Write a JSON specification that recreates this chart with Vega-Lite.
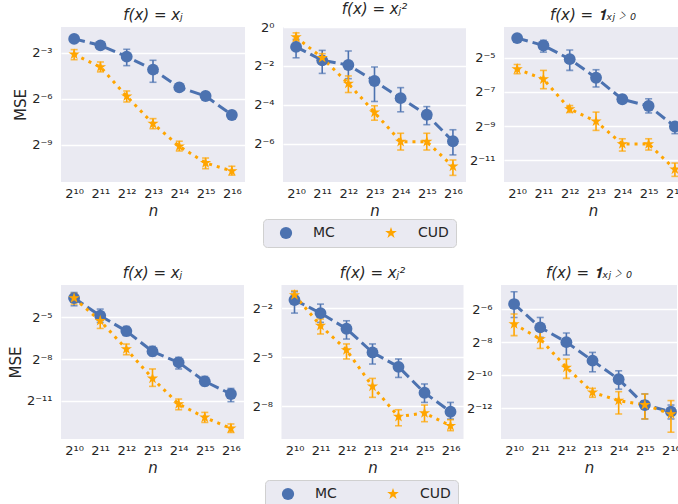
{
  "$schema": "https://vega.github.io/schema/vega-lite/v6.json",
  "padding": {"left": 8, "top": 2, "right": 0, "bottom": 0},
  "datasets": {
    "mse": [
      {"panel": "r1c1", "series": "MC", "n": 1024, "log2_mse": -2.08, "log2_lo": -2.22, "log2_hi": -1.95},
      {"panel": "r1c1", "series": "MC", "n": 2048, "log2_mse": -2.5, "log2_lo": -2.72, "log2_hi": -2.3},
      {"panel": "r1c1", "series": "MC", "n": 4096, "log2_mse": -3.24, "log2_lo": -3.83, "log2_hi": -2.76},
      {"panel": "r1c1", "series": "MC", "n": 8192, "log2_mse": -4.09, "log2_lo": -4.92, "log2_hi": -3.48},
      {"panel": "r1c1", "series": "MC", "n": 16384, "log2_mse": -5.25, "log2_lo": -5.49, "log2_hi": -5.01},
      {"panel": "r1c1", "series": "MC", "n": 32768, "log2_mse": -5.82, "log2_lo": -6.06, "log2_hi": -5.62},
      {"panel": "r1c1", "series": "MC", "n": 65536, "log2_mse": -7.06, "log2_lo": -7.34, "log2_hi": -6.82},
      {"panel": "r1c1", "series": "CUD", "n": 1024, "log2_mse": -3.09, "log2_lo": -3.44, "log2_hi": -2.78},
      {"panel": "r1c1", "series": "CUD", "n": 2048, "log2_mse": -3.92, "log2_lo": -4.24, "log2_hi": -3.59},
      {"panel": "r1c1", "series": "CUD", "n": 4096, "log2_mse": -5.84, "log2_lo": -6.21, "log2_hi": -5.49},
      {"panel": "r1c1", "series": "CUD", "n": 8192, "log2_mse": -7.63, "log2_lo": -7.96, "log2_hi": -7.3},
      {"panel": "r1c1", "series": "CUD", "n": 16384, "log2_mse": -9.11, "log2_lo": -9.42, "log2_hi": -8.78},
      {"panel": "r1c1", "series": "CUD", "n": 32768, "log2_mse": -10.2, "log2_lo": -10.58, "log2_hi": -9.88},
      {"panel": "r1c1", "series": "CUD", "n": 65536, "log2_mse": -10.73, "log2_lo": -11.0, "log2_hi": -10.42},
      {"panel": "r1c2", "series": "MC", "n": 1024, "log2_mse": -1.02, "log2_lo": -1.58, "log2_hi": -0.64},
      {"panel": "r1c2", "series": "MC", "n": 2048, "log2_mse": -1.71, "log2_lo": -2.38, "log2_hi": -1.2},
      {"panel": "r1c2", "series": "MC", "n": 4096, "log2_mse": -1.95, "log2_lo": -2.65, "log2_hi": -1.23},
      {"panel": "r1c2", "series": "MC", "n": 8192, "log2_mse": -2.77, "log2_lo": -3.82, "log2_hi": -2.05},
      {"panel": "r1c2", "series": "MC", "n": 16384, "log2_mse": -3.65, "log2_lo": -4.35, "log2_hi": -3.11},
      {"panel": "r1c2", "series": "MC", "n": 32768, "log2_mse": -4.5, "log2_lo": -5.01, "log2_hi": -4.08},
      {"panel": "r1c2", "series": "MC", "n": 65536, "log2_mse": -5.86, "log2_lo": -6.56, "log2_hi": -5.27},
      {"panel": "r1c2", "series": "CUD", "n": 1024, "log2_mse": -0.52, "log2_lo": -0.72, "log2_hi": -0.3},
      {"panel": "r1c2", "series": "CUD", "n": 2048, "log2_mse": -1.58, "log2_lo": -1.78, "log2_hi": -1.37},
      {"panel": "r1c2", "series": "CUD", "n": 4096, "log2_mse": -2.9, "log2_lo": -3.36, "log2_hi": -2.51},
      {"panel": "r1c2", "series": "CUD", "n": 8192, "log2_mse": -4.38, "log2_lo": -4.78, "log2_hi": -4.04},
      {"panel": "r1c2", "series": "CUD", "n": 16384, "log2_mse": -5.88, "log2_lo": -6.31, "log2_hi": -5.45},
      {"panel": "r1c2", "series": "CUD", "n": 32768, "log2_mse": -5.88, "log2_lo": -6.31, "log2_hi": -5.45},
      {"panel": "r1c2", "series": "CUD", "n": 65536, "log2_mse": -7.15, "log2_lo": -7.61, "log2_hi": -6.82},
      {"panel": "r1c3", "series": "MC", "n": 1024, "log2_mse": -3.85, "log2_lo": -4.0, "log2_hi": -3.7},
      {"panel": "r1c3", "series": "MC", "n": 2048, "log2_mse": -4.28, "log2_lo": -4.67, "log2_hi": -3.98},
      {"panel": "r1c3", "series": "MC", "n": 4096, "log2_mse": -5.08, "log2_lo": -5.74, "log2_hi": -4.55},
      {"panel": "r1c3", "series": "MC", "n": 8192, "log2_mse": -6.17, "log2_lo": -6.71, "log2_hi": -5.7},
      {"panel": "r1c3", "series": "MC", "n": 16384, "log2_mse": -7.43, "log2_lo": -7.65, "log2_hi": -7.2},
      {"panel": "r1c3", "series": "MC", "n": 32768, "log2_mse": -7.82, "log2_lo": -8.23, "log2_hi": -7.4},
      {"panel": "r1c3", "series": "MC", "n": 65536, "log2_mse": -9.02, "log2_lo": -9.44, "log2_hi": -8.86},
      {"panel": "r1c3", "series": "CUD", "n": 1024, "log2_mse": -5.66, "log2_lo": -5.94, "log2_hi": -5.39},
      {"panel": "r1c3", "series": "CUD", "n": 2048, "log2_mse": -6.25, "log2_lo": -6.81, "log2_hi": -5.74},
      {"panel": "r1c3", "series": "CUD", "n": 4096, "log2_mse": -8.0, "log2_lo": -8.2, "log2_hi": -7.8},
      {"panel": "r1c3", "series": "CUD", "n": 8192, "log2_mse": -8.72, "log2_lo": -9.25, "log2_hi": -8.18},
      {"panel": "r1c3", "series": "CUD", "n": 16384, "log2_mse": -10.05, "log2_lo": -10.46, "log2_hi": -9.74},
      {"panel": "r1c3", "series": "CUD", "n": 32768, "log2_mse": -10.05, "log2_lo": -10.4, "log2_hi": -9.74},
      {"panel": "r1c3", "series": "CUD", "n": 65536, "log2_mse": -11.53, "log2_lo": -11.94, "log2_hi": -11.16},
      {"panel": "r2c1", "series": "MC", "n": 1024, "log2_mse": -3.61, "log2_lo": -4.16, "log2_hi": -3.21},
      {"panel": "r2c1", "series": "MC", "n": 2048, "log2_mse": -4.88, "log2_lo": -5.36, "log2_hi": -4.4},
      {"panel": "r2c1", "series": "MC", "n": 4096, "log2_mse": -5.98, "log2_lo": -6.31, "log2_hi": -5.65},
      {"panel": "r2c1", "series": "MC", "n": 8192, "log2_mse": -7.44, "log2_lo": -7.75, "log2_hi": -7.08},
      {"panel": "r2c1", "series": "MC", "n": 16384, "log2_mse": -8.23, "log2_lo": -8.7, "log2_hi": -7.87},
      {"panel": "r2c1", "series": "MC", "n": 32768, "log2_mse": -9.59, "log2_lo": -9.9, "log2_hi": -9.24},
      {"panel": "r2c1", "series": "MC", "n": 65536, "log2_mse": -10.5, "log2_lo": -11.05, "log2_hi": -10.1},
      {"panel": "r2c1", "series": "CUD", "n": 1024, "log2_mse": -3.61, "log2_lo": -4.04, "log2_hi": -3.28},
      {"panel": "r2c1", "series": "CUD", "n": 2048, "log2_mse": -5.24, "log2_lo": -5.79, "log2_hi": -4.83},
      {"panel": "r2c1", "series": "CUD", "n": 4096, "log2_mse": -7.27, "log2_lo": -7.68, "log2_hi": -6.91},
      {"panel": "r2c1", "series": "CUD", "n": 8192, "log2_mse": -9.38, "log2_lo": -9.95, "log2_hi": -8.7},
      {"panel": "r2c1", "series": "CUD", "n": 16384, "log2_mse": -11.22, "log2_lo": -11.63, "log2_hi": -10.86},
      {"panel": "r2c1", "series": "CUD", "n": 32768, "log2_mse": -12.18, "log2_lo": -12.54, "log2_hi": -11.82},
      {"panel": "r2c1", "series": "CUD", "n": 65536, "log2_mse": -12.97, "log2_lo": -13.26, "log2_hi": -12.65},
      {"panel": "r2c2", "series": "MC", "n": 1024, "log2_mse": -1.51, "log2_lo": -2.31, "log2_hi": -1.0},
      {"panel": "r2c2", "series": "MC", "n": 2048, "log2_mse": -2.31, "log2_lo": -2.88, "log2_hi": -1.76},
      {"panel": "r2c2", "series": "MC", "n": 4096, "log2_mse": -3.27, "log2_lo": -3.9, "log2_hi": -2.78},
      {"panel": "r2c2", "series": "MC", "n": 8192, "log2_mse": -4.72, "log2_lo": -5.43, "log2_hi": -4.2},
      {"panel": "r2c2", "series": "MC", "n": 16384, "log2_mse": -5.6, "log2_lo": -6.25, "log2_hi": -5.12},
      {"panel": "r2c2", "series": "MC", "n": 32768, "log2_mse": -7.19, "log2_lo": -7.78, "log2_hi": -6.65},
      {"panel": "r2c2", "series": "MC", "n": 65536, "log2_mse": -8.35, "log2_lo": -8.8, "log2_hi": -7.78},
      {"panel": "r2c2", "series": "CUD", "n": 1024, "log2_mse": -1.2, "log2_lo": -1.45, "log2_hi": -0.94},
      {"panel": "r2c2", "series": "CUD", "n": 2048, "log2_mse": -3.08, "log2_lo": -3.59, "log2_hi": -2.67},
      {"panel": "r2c2", "series": "CUD", "n": 4096, "log2_mse": -4.57, "log2_lo": -5.12, "log2_hi": -4.2},
      {"panel": "r2c2", "series": "CUD", "n": 8192, "log2_mse": -6.8, "log2_lo": -7.47, "log2_hi": -6.31},
      {"panel": "r2c2", "series": "CUD", "n": 16384, "log2_mse": -8.65, "log2_lo": -9.21, "log2_hi": -8.23},
      {"panel": "r2c2", "series": "CUD", "n": 32768, "log2_mse": -8.43, "log2_lo": -8.96, "log2_hi": -7.94},
      {"panel": "r2c2", "series": "CUD", "n": 65536, "log2_mse": -9.21, "log2_lo": -9.51, "log2_hi": -8.84},
      {"panel": "r2c3", "series": "MC", "n": 1024, "log2_mse": -5.7, "log2_lo": -6.51, "log2_hi": -4.96},
      {"panel": "r2c3", "series": "MC", "n": 2048, "log2_mse": -7.11, "log2_lo": -7.71, "log2_hi": -6.51},
      {"panel": "r2c3", "series": "MC", "n": 4096, "log2_mse": -8.0, "log2_lo": -8.78, "log2_hi": -7.45},
      {"panel": "r2c3", "series": "MC", "n": 8192, "log2_mse": -9.12, "log2_lo": -9.79, "log2_hi": -8.62},
      {"panel": "r2c3", "series": "MC", "n": 16384, "log2_mse": -10.24, "log2_lo": -10.84, "log2_hi": -9.73},
      {"panel": "r2c3", "series": "MC", "n": 32768, "log2_mse": -11.8, "log2_lo": -12.64, "log2_hi": -11.13},
      {"panel": "r2c3", "series": "MC", "n": 65536, "log2_mse": -12.2, "log2_lo": -12.64, "log2_hi": -11.8},
      {"panel": "r2c3", "series": "CUD", "n": 1024, "log2_mse": -6.91, "log2_lo": -7.61, "log2_hi": -6.3},
      {"panel": "r2c3", "series": "CUD", "n": 2048, "log2_mse": -7.81, "log2_lo": -8.38, "log2_hi": -7.31},
      {"panel": "r2c3", "series": "CUD", "n": 4096, "log2_mse": -9.53, "log2_lo": -10.19, "log2_hi": -9.02},
      {"panel": "r2c3", "series": "CUD", "n": 8192, "log2_mse": -11.03, "log2_lo": -11.33, "log2_hi": -10.79},
      {"panel": "r2c3", "series": "CUD", "n": 16384, "log2_mse": -11.53, "log2_lo": -12.34, "log2_hi": -10.99},
      {"panel": "r2c3", "series": "CUD", "n": 32768, "log2_mse": -11.79, "log2_lo": -12.64, "log2_hi": -11.13},
      {"panel": "r2c3", "series": "CUD", "n": 65536, "log2_mse": -12.34, "log2_lo": -13.44, "log2_hi": -11.53}
    ]
  },
  "data": {"name": "mse"},
  "spacing": 18,
  "bounds": "full",
  "resolve": {
    "scale": {"color": "independent", "shape": "independent"},
    "legend": {"color": "independent", "shape": "independent"}
  },
  "vconcat": [
    {
      "spacing": 38,
      "bounds": "flush",
      "resolve": {"scale": {"color": "shared", "shape": "shared"}, "legend": {"color": "shared", "shape": "shared"}},
      "hconcat": [
        {
          "width": 184, "height": 155,
          "title": "f(x) = xⱼ",
          "transform": [{"filter": "datum.panel == 'r1c1'"}],
          "encoding": {
            "x": {"field": "n", "type": "quantitative", "scale": {"type": "log", "base": 2, "domain": [724.08, 92681.9], "nice": false},
                  "axis": {"values": [1024, 2048, 4096, 8192, 16384, 32768, 65536], "labelExpr": "datum.value == 1024 ? '2¹⁰' : datum.value == 2048 ? '2¹¹' : datum.value == 4096 ? '2¹²' : datum.value == 8192 ? '2¹³' : datum.value == 16384 ? '2¹⁴' : datum.value == 32768 ? '2¹⁵' : '2¹⁶'", "title": "n"}},
            "y": {"field": "log2_mse", "type": "quantitative", "scale": {"domain": [-11.45, -1.3], "nice": false, "zero": false},
                  "axis": {"values": [-9, -6, -3], "title": "MSE", "minExtent": 27, "maxExtent": 27, "labelExpr": "datum.value == -3 ? '2⁻³' : datum.value == -6 ? '2⁻⁶' : '2⁻⁹'"}}
          },
          "layer": [
            {"transform": [{"filter": "datum.series == 'MC'"}], "mark": {"type": "errorbar", "color": "#4C72B0", "thickness": 1.6, "ticks": {"size": 7, "thickness": 1.6}},
             "encoding": {"y": {"field": "log2_lo", "type": "quantitative", "scale": {"domain": [-11.45, -1.3], "nice": false, "zero": false},
                                "axis": {"values": [-9, -6, -3], "title": "MSE", "minExtent": 27, "maxExtent": 27, "labelExpr": "datum.value == -3 ? '2⁻³' : datum.value == -6 ? '2⁻⁶' : '2⁻⁹'"}}, "y2": {"field": "log2_hi"}}},
            {"transform": [{"filter": "datum.series == 'CUD'"}], "mark": {"type": "errorbar", "color": "#FFA500", "thickness": 1.6, "ticks": {"size": 7, "thickness": 1.6}},
             "encoding": {"y": {"field": "log2_lo", "type": "quantitative", "scale": {"domain": [-11.45, -1.3], "nice": false, "zero": false},
                                "axis": {"values": [-9, -6, -3], "title": "MSE", "minExtent": 27, "maxExtent": 27, "labelExpr": "datum.value == -3 ? '2⁻³' : datum.value == -6 ? '2⁻⁶' : '2⁻⁹'"}}, "y2": {"field": "log2_hi"}}},
            {"transform": [{"filter": "datum.series == 'MC'"}], "mark": {"type": "line", "strokeWidth": 3, "strokeDash": [11, 5], "color": "#4C72B0"}, "encoding": {}},
            {"transform": [{"filter": "datum.series == 'CUD'"}], "mark": {"type": "line", "strokeWidth": 3, "strokeDash": [3, 5], "color": "#FFA500"}, "encoding": {}},
            {"mark": {"type": "point", "filled": true, "opacity": 1, "size": 140},
             "encoding": {"color": {"field": "series", "type": "nominal", "scale": {"domain": ["MC", "CUD"], "range": ["#4C72B0", "#FFA500"]}, "legend": {"orient": "none", "legendX": 202, "legendY": 192, "direction": "horizontal", "columns": 2, "title": null}},
                          "shape": {"field": "series", "type": "nominal", "scale": {"domain": ["MC", "CUD"], "range": ["circle", "M0,-1L0.2245,-0.309L0.951,-0.309L0.363,0.118L0.588,0.809L0,0.382L-0.588,0.809L-0.363,0.118L-0.951,-0.309L-0.2245,-0.309Z"]}, "legend": {"orient": "none", "legendX": 202, "legendY": 192, "direction": "horizontal", "columns": 2, "title": null}}}}
          ]
        },
        {
          "width": 183, "height": 155,
          "title": "f(x) = xⱼ²",
          "transform": [{"filter": "datum.panel == 'r1c2'"}],
          "encoding": {
            "x": {"field": "n", "type": "quantitative", "scale": {"type": "log", "base": 2, "domain": [724.08, 92681.9], "nice": false},
                  "axis": {"values": [1024, 2048, 4096, 8192, 16384, 32768, 65536], "labelExpr": "datum.value == 1024 ? '2¹⁰' : datum.value == 2048 ? '2¹¹' : datum.value == 4096 ? '2¹²' : datum.value == 8192 ? '2¹³' : datum.value == 16384 ? '2¹⁴' : datum.value == 32768 ? '2¹⁵' : '2¹⁶'", "title": "n"}},
            "y": {"field": "log2_mse", "type": "quantitative", "scale": {"domain": [-7.95, 0], "nice": false, "zero": false},
                  "axis": {"values": [-6, -4, -2, 0], "title": null, "labelExpr": "datum.value == 0 ? '2⁰' : datum.value == -2 ? '2⁻²' : datum.value == -4 ? '2⁻⁴' : '2⁻⁶'"}}
          },
          "layer": [
            {"transform": [{"filter": "datum.series == 'MC'"}], "mark": {"type": "errorbar", "color": "#4C72B0", "thickness": 1.6, "ticks": {"size": 7, "thickness": 1.6}},
             "encoding": {"y": {"field": "log2_lo", "type": "quantitative", "scale": {"domain": [-7.95, 0], "nice": false, "zero": false},
                                "axis": {"values": [-6, -4, -2, 0], "title": null, "labelExpr": "datum.value == 0 ? '2⁰' : datum.value == -2 ? '2⁻²' : datum.value == -4 ? '2⁻⁴' : '2⁻⁶'"}}, "y2": {"field": "log2_hi"}}},
            {"transform": [{"filter": "datum.series == 'CUD'"}], "mark": {"type": "errorbar", "color": "#FFA500", "thickness": 1.6, "ticks": {"size": 7, "thickness": 1.6}},
             "encoding": {"y": {"field": "log2_lo", "type": "quantitative", "scale": {"domain": [-7.95, 0], "nice": false, "zero": false},
                                "axis": {"values": [-6, -4, -2, 0], "title": null, "labelExpr": "datum.value == 0 ? '2⁰' : datum.value == -2 ? '2⁻²' : datum.value == -4 ? '2⁻⁴' : '2⁻⁶'"}}, "y2": {"field": "log2_hi"}}},
            {"transform": [{"filter": "datum.series == 'MC'"}], "mark": {"type": "line", "strokeWidth": 3, "strokeDash": [11, 5], "color": "#4C72B0"}, "encoding": {}},
            {"transform": [{"filter": "datum.series == 'CUD'"}], "mark": {"type": "line", "strokeWidth": 3, "strokeDash": [3, 5], "color": "#FFA500"}, "encoding": {}},
            {"mark": {"type": "point", "filled": true, "opacity": 1, "size": 140},
             "encoding": {"color": {"field": "series", "type": "nominal", "scale": {"domain": ["MC", "CUD"], "range": ["#4C72B0", "#FFA500"]}, "legend": {"orient": "none", "legendX": 202, "legendY": 192, "direction": "horizontal", "columns": 2, "title": null}},
                          "shape": {"field": "series", "type": "nominal", "scale": {"domain": ["MC", "CUD"], "range": ["circle", "M0,-1L0.2245,-0.309L0.951,-0.309L0.363,0.118L0.588,0.809L0,0.382L-0.588,0.809L-0.363,0.118L-0.951,-0.309L-0.2245,-0.309Z"]}, "legend": {"orient": "none", "legendX": 202, "legendY": 192, "direction": "horizontal", "columns": 2, "title": null}}}}
          ]
        },
        {
          "width": 178, "height": 155,
          "title": "f(x) = 𝟏ₓⱼ﹥₀",
          "transform": [{"filter": "datum.panel == 'r1c3'"}],
          "encoding": {
            "x": {"field": "n", "type": "quantitative", "scale": {"type": "log", "base": 2, "domain": [724.08, 79000], "nice": false},
                  "axis": {"values": [1024, 2048, 4096, 8192, 16384, 32768, 65536], "labelExpr": "datum.value == 1024 ? '2¹⁰' : datum.value == 2048 ? '2¹¹' : datum.value == 4096 ? '2¹²' : datum.value == 8192 ? '2¹³' : datum.value == 16384 ? '2¹⁴' : datum.value == 32768 ? '2¹⁵' : '2¹⁶'", "title": "n"}},
            "y": {"field": "log2_mse", "type": "quantitative", "scale": {"domain": [-12.27, -3.2], "nice": false, "zero": false},
                  "axis": {"values": [-11, -9, -7, -5], "title": null, "labelExpr": "datum.value == -5 ? '2⁻⁵' : datum.value == -7 ? '2⁻⁷' : datum.value == -9 ? '2⁻⁹' : '2⁻¹¹'"}}
          },
          "layer": [
            {"transform": [{"filter": "datum.series == 'MC'"}], "mark": {"type": "errorbar", "color": "#4C72B0", "thickness": 1.6, "ticks": {"size": 7, "thickness": 1.6}},
             "encoding": {"y": {"field": "log2_lo", "type": "quantitative", "scale": {"domain": [-12.27, -3.2], "nice": false, "zero": false},
                                "axis": {"values": [-11, -9, -7, -5], "title": null, "labelExpr": "datum.value == -5 ? '2⁻⁵' : datum.value == -7 ? '2⁻⁷' : datum.value == -9 ? '2⁻⁹' : '2⁻¹¹'"}}, "y2": {"field": "log2_hi"}}},
            {"transform": [{"filter": "datum.series == 'CUD'"}], "mark": {"type": "errorbar", "color": "#FFA500", "thickness": 1.6, "ticks": {"size": 7, "thickness": 1.6}},
             "encoding": {"y": {"field": "log2_lo", "type": "quantitative", "scale": {"domain": [-12.27, -3.2], "nice": false, "zero": false},
                                "axis": {"values": [-11, -9, -7, -5], "title": null, "labelExpr": "datum.value == -5 ? '2⁻⁵' : datum.value == -7 ? '2⁻⁷' : datum.value == -9 ? '2⁻⁹' : '2⁻¹¹'"}}, "y2": {"field": "log2_hi"}}},
            {"transform": [{"filter": "datum.series == 'MC'"}], "mark": {"type": "line", "strokeWidth": 3, "strokeDash": [11, 5], "color": "#4C72B0"}, "encoding": {}},
            {"transform": [{"filter": "datum.series == 'CUD'"}], "mark": {"type": "line", "strokeWidth": 3, "strokeDash": [3, 5], "color": "#FFA500"}, "encoding": {}},
            {"mark": {"type": "point", "filled": true, "opacity": 1, "size": 140},
             "encoding": {"color": {"field": "series", "type": "nominal", "scale": {"domain": ["MC", "CUD"], "range": ["#4C72B0", "#FFA500"]}, "legend": {"orient": "none", "legendX": 202, "legendY": 192, "direction": "horizontal", "columns": 2, "title": null}},
                          "shape": {"field": "series", "type": "nominal", "scale": {"domain": ["MC", "CUD"], "range": ["circle", "M0,-1L0.2245,-0.309L0.951,-0.309L0.363,0.118L0.588,0.809L0,0.382L-0.588,0.809L-0.363,0.118L-0.951,-0.309L-0.2245,-0.309Z"]}, "legend": {"orient": "none", "legendX": 202, "legendY": 192, "direction": "horizontal", "columns": 2, "title": null}}}}
          ]
        }
      ]
    },
    {
      "spacing": 37.5,
      "bounds": "flush",
      "resolve": {"scale": {"color": "shared", "shape": "shared"}, "legend": {"color": "shared", "shape": "shared"}},
      "hconcat": [
        {
          "width": 183, "height": 154,
          "title": "f(x) = xⱼ",
          "transform": [{"filter": "datum.panel == 'r2c1'"}],
          "encoding": {
            "x": {"field": "n", "type": "quantitative", "scale": {"type": "log", "base": 2, "domain": [724.08, 92681.9], "nice": false},
                  "axis": {"values": [1024, 2048, 4096, 8192, 16384, 32768, 65536], "labelExpr": "datum.value == 1024 ? '2¹⁰' : datum.value == 2048 ? '2¹¹' : datum.value == 4096 ? '2¹²' : datum.value == 8192 ? '2¹³' : datum.value == 16384 ? '2¹⁴' : datum.value == 32768 ? '2¹⁵' : '2¹⁶'", "title": "n"}},
            "y": {"field": "log2_mse", "type": "quantitative", "scale": {"domain": [-13.73, -2.67], "nice": false, "zero": false},
                  "axis": {"values": [-11, -8, -5], "title": "MSE", "minExtent": 32, "maxExtent": 32, "labelExpr": "datum.value == -5 ? '2⁻⁵' : datum.value == -8 ? '2⁻⁸' : '2⁻¹¹'"}}
          },
          "layer": [
            {"transform": [{"filter": "datum.series == 'MC'"}], "mark": {"type": "errorbar", "color": "#4C72B0", "thickness": 1.6, "ticks": {"size": 7, "thickness": 1.6}},
             "encoding": {"y": {"field": "log2_lo", "type": "quantitative", "scale": {"domain": [-13.73, -2.67], "nice": false, "zero": false},
                                "axis": {"values": [-11, -8, -5], "title": "MSE", "minExtent": 32, "maxExtent": 32, "labelExpr": "datum.value == -5 ? '2⁻⁵' : datum.value == -8 ? '2⁻⁸' : '2⁻¹¹'"}}, "y2": {"field": "log2_hi"}}},
            {"transform": [{"filter": "datum.series == 'CUD'"}], "mark": {"type": "errorbar", "color": "#FFA500", "thickness": 1.6, "ticks": {"size": 7, "thickness": 1.6}},
             "encoding": {"y": {"field": "log2_lo", "type": "quantitative", "scale": {"domain": [-13.73, -2.67], "nice": false, "zero": false},
                                "axis": {"values": [-11, -8, -5], "title": "MSE", "minExtent": 32, "maxExtent": 32, "labelExpr": "datum.value == -5 ? '2⁻⁵' : datum.value == -8 ? '2⁻⁸' : '2⁻¹¹'"}}, "y2": {"field": "log2_hi"}}},
            {"transform": [{"filter": "datum.series == 'MC'"}], "mark": {"type": "line", "strokeWidth": 3, "strokeDash": [11, 5], "color": "#4C72B0"}, "encoding": {}},
            {"transform": [{"filter": "datum.series == 'CUD'"}], "mark": {"type": "line", "strokeWidth": 3, "strokeDash": [3, 5], "color": "#FFA500"}, "encoding": {}},
            {"mark": {"type": "point", "filled": true, "opacity": 1, "size": 140},
             "encoding": {"color": {"field": "series", "type": "nominal", "scale": {"domain": ["MC", "CUD"], "range": ["#4C72B0", "#FFA500"]}, "legend": {"orient": "none", "legendX": 204, "legendY": 195, "direction": "horizontal", "columns": 2, "title": null}},
                          "shape": {"field": "series", "type": "nominal", "scale": {"domain": ["MC", "CUD"], "range": ["circle", "M0,-1L0.2245,-0.309L0.951,-0.309L0.363,0.118L0.588,0.809L0,0.382L-0.588,0.809L-0.363,0.118L-0.951,-0.309L-0.2245,-0.309Z"]}, "legend": {"orient": "none", "legendX": 204, "legendY": 195, "direction": "horizontal", "columns": 2, "title": null}}}}
          ]
        },
        {
          "width": 182, "height": 154,
          "title": "f(x) = xⱼ²",
          "transform": [{"filter": "datum.panel == 'r2c2'"}],
          "encoding": {
            "x": {"field": "n", "type": "quantitative", "scale": {"type": "log", "base": 2, "domain": [724.08, 92681.9], "nice": false},
                  "axis": {"values": [1024, 2048, 4096, 8192, 16384, 32768, 65536], "labelExpr": "datum.value == 1024 ? '2¹⁰' : datum.value == 2048 ? '2¹¹' : datum.value == 4096 ? '2¹²' : datum.value == 8192 ? '2¹³' : datum.value == 16384 ? '2¹⁴' : datum.value == 32768 ? '2¹⁵' : '2¹⁶'", "title": "n"}},
            "y": {"field": "log2_mse", "type": "quantitative", "scale": {"domain": [-10.02, -0.59], "nice": false, "zero": false},
                  "axis": {"values": [-8, -5, -2], "title": null, "labelExpr": "datum.value == -2 ? '2⁻²' : datum.value == -5 ? '2⁻⁵' : '2⁻⁸'"}}
          },
          "layer": [
            {"transform": [{"filter": "datum.series == 'MC'"}], "mark": {"type": "errorbar", "color": "#4C72B0", "thickness": 1.6, "ticks": {"size": 7, "thickness": 1.6}},
             "encoding": {"y": {"field": "log2_lo", "type": "quantitative", "scale": {"domain": [-10.02, -0.59], "nice": false, "zero": false},
                                "axis": {"values": [-8, -5, -2], "title": null, "labelExpr": "datum.value == -2 ? '2⁻²' : datum.value == -5 ? '2⁻⁵' : '2⁻⁸'"}}, "y2": {"field": "log2_hi"}}},
            {"transform": [{"filter": "datum.series == 'CUD'"}], "mark": {"type": "errorbar", "color": "#FFA500", "thickness": 1.6, "ticks": {"size": 7, "thickness": 1.6}},
             "encoding": {"y": {"field": "log2_lo", "type": "quantitative", "scale": {"domain": [-10.02, -0.59], "nice": false, "zero": false},
                                "axis": {"values": [-8, -5, -2], "title": null, "labelExpr": "datum.value == -2 ? '2⁻²' : datum.value == -5 ? '2⁻⁵' : '2⁻⁸'"}}, "y2": {"field": "log2_hi"}}},
            {"transform": [{"filter": "datum.series == 'MC'"}], "mark": {"type": "line", "strokeWidth": 3, "strokeDash": [11, 5], "color": "#4C72B0"}, "encoding": {}},
            {"transform": [{"filter": "datum.series == 'CUD'"}], "mark": {"type": "line", "strokeWidth": 3, "strokeDash": [3, 5], "color": "#FFA500"}, "encoding": {}},
            {"mark": {"type": "point", "filled": true, "opacity": 1, "size": 140},
             "encoding": {"color": {"field": "series", "type": "nominal", "scale": {"domain": ["MC", "CUD"], "range": ["#4C72B0", "#FFA500"]}, "legend": {"orient": "none", "legendX": 204, "legendY": 195, "direction": "horizontal", "columns": 2, "title": null}},
                          "shape": {"field": "series", "type": "nominal", "scale": {"domain": ["MC", "CUD"], "range": ["circle", "M0,-1L0.2245,-0.309L0.951,-0.309L0.363,0.118L0.588,0.809L0,0.382L-0.588,0.809L-0.363,0.118L-0.951,-0.309L-0.2245,-0.309Z"]}, "legend": {"orient": "none", "legendX": 204, "legendY": 195, "direction": "horizontal", "columns": 2, "title": null}}}}
          ]
        },
        {
          "width": 176, "height": 154,
          "title": "f(x) = 𝟏ₓⱼ﹥₀",
          "transform": [{"filter": "datum.panel == 'r2c3'"}],
          "encoding": {
            "x": {"field": "n", "type": "quantitative", "scale": {"type": "log", "base": 2, "domain": [724.08, 76900], "nice": false},
                  "axis": {"values": [1024, 2048, 4096, 8192, 16384, 32768, 65536], "labelExpr": "datum.value == 1024 ? '2¹⁰' : datum.value == 2048 ? '2¹¹' : datum.value == 4096 ? '2¹²' : datum.value == 8192 ? '2¹³' : datum.value == 16384 ? '2¹⁴' : datum.value == 32768 ? '2¹⁵' : '2¹⁶'", "title": "n"}},
            "y": {"field": "log2_mse", "type": "quantitative", "scale": {"domain": [-13.85, -4.55], "nice": false, "zero": false},
                  "axis": {"values": [-12, -10, -8, -6], "title": null, "labelExpr": "datum.value == -6 ? '2⁻⁶' : datum.value == -8 ? '2⁻⁸' : datum.value == -10 ? '2⁻¹⁰' : '2⁻¹²'"}}
          },
          "layer": [
            {"transform": [{"filter": "datum.series == 'MC'"}], "mark": {"type": "errorbar", "color": "#4C72B0", "thickness": 1.6, "ticks": {"size": 7, "thickness": 1.6}},
             "encoding": {"y": {"field": "log2_lo", "type": "quantitative", "scale": {"domain": [-13.85, -4.55], "nice": false, "zero": false},
                                "axis": {"values": [-12, -10, -8, -6], "title": null, "labelExpr": "datum.value == -6 ? '2⁻⁶' : datum.value == -8 ? '2⁻⁸' : datum.value == -10 ? '2⁻¹⁰' : '2⁻¹²'"}}, "y2": {"field": "log2_hi"}}},
            {"transform": [{"filter": "datum.series == 'CUD'"}], "mark": {"type": "errorbar", "color": "#FFA500", "thickness": 1.6, "ticks": {"size": 7, "thickness": 1.6}},
             "encoding": {"y": {"field": "log2_lo", "type": "quantitative", "scale": {"domain": [-13.85, -4.55], "nice": false, "zero": false},
                                "axis": {"values": [-12, -10, -8, -6], "title": null, "labelExpr": "datum.value == -6 ? '2⁻⁶' : datum.value == -8 ? '2⁻⁸' : datum.value == -10 ? '2⁻¹⁰' : '2⁻¹²'"}}, "y2": {"field": "log2_hi"}}},
            {"transform": [{"filter": "datum.series == 'MC'"}], "mark": {"type": "line", "strokeWidth": 3, "strokeDash": [11, 5], "color": "#4C72B0"}, "encoding": {}},
            {"transform": [{"filter": "datum.series == 'CUD'"}], "mark": {"type": "line", "strokeWidth": 3, "strokeDash": [3, 5], "color": "#FFA500"}, "encoding": {}},
            {"mark": {"type": "point", "filled": true, "opacity": 1, "size": 140},
             "encoding": {"color": {"field": "series", "type": "nominal", "scale": {"domain": ["MC", "CUD"], "range": ["#4C72B0", "#FFA500"]}, "legend": {"orient": "none", "legendX": 204, "legendY": 195, "direction": "horizontal", "columns": 2, "title": null}},
                          "shape": {"field": "series", "type": "nominal", "scale": {"domain": ["MC", "CUD"], "range": ["circle", "M0,-1L0.2245,-0.309L0.951,-0.309L0.363,0.118L0.588,0.809L0,0.382L-0.588,0.809L-0.363,0.118L-0.951,-0.309L-0.2245,-0.309Z"]}, "legend": {"orient": "none", "legendX": 204, "legendY": 195, "direction": "horizontal", "columns": 2, "title": null}}}}
          ]
        }
      ]
    }
  ],
  "config": {
    "font": "DejaVu Sans",
    "view": {"fill": "#EAEAF2", "stroke": null},
    "axis": {"domain": false, "ticks": false, "labelFontSize": 13, "labelColor": "#262626", "titleFontSize": 15, "titleColor": "#262626", "titleFontWeight": "normal", "gridColor": "#FFFFFF", "gridWidth": 1.3, "labelOverlap": false, "labelFlush": false},
    "axisX": {"grid": false, "labelPadding": 5, "titlePadding": 3, "titleFontStyle": "italic"},
    "axisY": {"grid": true, "labelPadding": 9, "titlePadding": 6},
    "title": {"fontSize": 15, "fontWeight": "normal", "fontStyle": "italic", "color": "#262626", "offset": 0},
    "legend": {"labelFontSize": 14, "labelColor": "#262626", "symbolSize": 150, "symbolStrokeWidth": 0, "padding": 7, "fillColor": "#EAEAF2", "strokeColor": "#D0D0D0", "cornerRadius": 4, "columnPadding": 40, "labelOffset": 20, "symbolOffset": 9}
  }
}
